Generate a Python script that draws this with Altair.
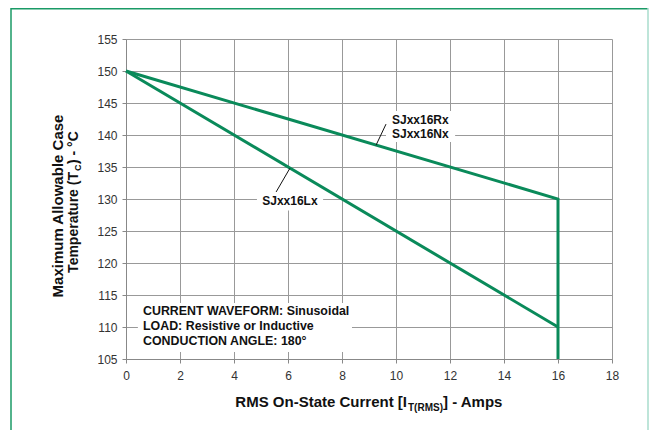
import altair as alt
import pandas as pd

# ---------------- data ----------------
rx_current = [0, 16, 16]
rx_temp = [150, 130, 105]
lx_current = [0, 16]
lx_temp = [150, 110]

x_ticks = [0, 2, 4, 6, 8, 10, 12, 14, 16, 18]
y_ticks = [105, 110, 115, 120, 125, 130, 135, 140, 145, 150, 155]

# annotation labels (data coordinates)
label_text = ["SJxx16Lx", "SJxx16Rx", "SJxx16Nx"]
label_x = [6.07, 9.85, 9.85]
label_y = [129.1, 141.7, 139.6]
label_align = ["center", "left", "left"]

info_text = ["CURRENT WAVEFORM: Sinusoidal", "LOAD: Resistive or Inductive", "CONDUCTION ANGLE: 180°"]
info_x = [0.63, 0.63, 0.63]
info_y = [111.8, 109.5, 107.2]

# white boxes behind labels
box_x = [0.44, 4.85, 9.63]
box_x2 = [8.37, 7.3, 12.19]
box_y = [113.75, 134.7, 143.75]
box_y2 = [106.1, 128.2, 138.9]

# leader lines
lead_x = [6.07, 9.26]
lead_y = [134.8, 138.4]
lead_x2 = [5.56, 9.63]
lead_y2 = [131.1, 141.7]

x_title_parts = ["RMS On-State Current [I", "T(RMS)", "] - Amps"]
y_title_line1 = "Maximum Allowable Case"
y_title_parts = ["Temperature (T", "C", " ) - °C"]

GREEN = "#0a8a5a"
FONT = "Liberation Sans"
W, H = 486, 320

xscale = alt.Scale(domain=[0, 18], nice=False, zero=False)
yscale = alt.Scale(domain=[105, 155], nice=False, zero=False)

xaxis = alt.Axis(values=x_ticks, title=None, grid=True, gridColor="#999", gridWidth=1,
                 domainColor="#888", tickColor="#888", tickSize=4, labelPadding=7,
                 labelFont=FONT, labelFontSize=12, labelColor="#333", labelFlush=False)
yaxis = alt.Axis(values=y_ticks, title=None, grid=True, gridColor="#999", gridWidth=1,
                 domainColor="#888", tickColor="#888", tickSize=4, labelPadding=5,
                 labelFont=FONT, labelFontSize=12, labelColor="#333", labelFlush=False)


def X(field):
    return alt.X(field, scale=xscale, axis=xaxis)


def Y(field):
    return alt.Y(field, scale=yscale, axis=yaxis)


lines_df = pd.DataFrame({
    "current": rx_current + lx_current,
    "temp": rx_temp + lx_temp,
    "series": ["Rx"] * len(rx_current) + ["Lx"] * len(lx_current),
    "ord": list(range(len(rx_current))) + list(range(len(lx_current))),
})

boxes_df = pd.DataFrame({"x": box_x, "x2": box_x2, "y": box_y, "y2": box_y2})
lead_df = pd.DataFrame({"x": lead_x, "y": lead_y, "x2": lead_x2, "y2": lead_y2})
lab_df = pd.DataFrame({"text": label_text, "x": label_x, "y": label_y, "align": label_align})
info_df = pd.DataFrame({"text": info_text, "x": info_x, "y": info_y})
one = pd.DataFrame({"k": [0]})

boxes = alt.Chart(boxes_df).mark_rect(fill="white", stroke=None).encode(
    x=X("x:Q"), x2="x2:Q", y=Y("y:Q"), y2="y2:Q",
)

lines = alt.Chart(lines_df).mark_line(color=GREEN, strokeWidth=3, strokeJoin="miter").encode(
    x=X("current:Q"), y=Y("temp:Q"), detail="series:N", order="ord:Q",
)

leaders = alt.Chart(lead_df).mark_rule(color="#111", strokeWidth=1).encode(
    x=X("x:Q"), y=Y("y:Q"), x2="x2:Q", y2="y2:Q",
)

lab_center = alt.Chart(lab_df[lab_df["align"] == "center"]).mark_text(
    font=FONT, fontSize=12, fontWeight="bold", color="#111", align="center", baseline="alphabetic"
).encode(x=X("x:Q"), y=Y("y:Q"), text="text:N")

lab_left = alt.Chart(lab_df[lab_df["align"] == "left"]).mark_text(
    font=FONT, fontSize=12, fontWeight="bold", color="#111", align="left", baseline="alphabetic"
).encode(x=X("x:Q"), y=Y("y:Q"), text="text:N")

info = alt.Chart(info_df).mark_text(
    font=FONT, fontSize=12.4, fontWeight="bold", color="#111", align="left", baseline="alphabetic"
).encode(x=X("x:Q"), y=Y("y:Q"), text="text:N")


def ptext(txt, px, py, size, align, angle=0):
    return alt.Chart(one).mark_text(
        font=FONT, fontSize=size, fontWeight="bold", color="#111", align=align,
        baseline="alphabetic", angle=angle, text=txt
    ).encode(x=alt.value(px), y=alt.value(py))


# x title with subscript
xt1 = ptext(x_title_parts[0], 281, 368, 15, "right")
xt2 = ptext(x_title_parts[1], 282, 372, 10, "left")
xt3 = ptext(x_title_parts[2], 317, 368, 15, "left")

# y title (two lines, rotated), subscript on second line
yt1 = ptext(y_title_line1, -63, 167, 15, "center", 270)
yt2 = ptext(y_title_parts[0], -48, 133, 14, "right", 270)
yt3 = ptext(y_title_parts[1], -45, 132, 9, "left", 270)
yt4 = ptext(y_title_parts[2], -48, 125, 14, "left", 270)

# outer frame
frame_top = alt.Chart(one).mark_rule(color="#1a9a66", strokeWidth=1.5).encode(
    x=alt.value(-115), x2=alt.value(522), y=alt.value(-30.2))
frame_left = alt.Chart(one).mark_rule(color="#1a9a66", strokeWidth=1.5).encode(
    x=alt.value(-115), y=alt.value(-31), y2=alt.value(392))
frame_right = alt.Chart(one).mark_rule(color="#a8dccd", strokeWidth=1.5).encode(
    x=alt.value(522), y=alt.value(-31), y2=alt.value(392))

chart = alt.layer(
    boxes, lines, leaders, lab_center, lab_left, info,
    xt1, xt2, xt3, yt1, yt2, yt3, yt4,
    frame_top, frame_left, frame_right,
).properties(
    width=W, height=H,
    autosize=alt.AutoSizeParams(type="none"),
    padding={"left": 118, "top": 31, "right": 37, "bottom": 71},
    background="white",
).configure_view(stroke=None)

chart.save("out.html", embed_options={"renderer": "svg", "actions": False})
